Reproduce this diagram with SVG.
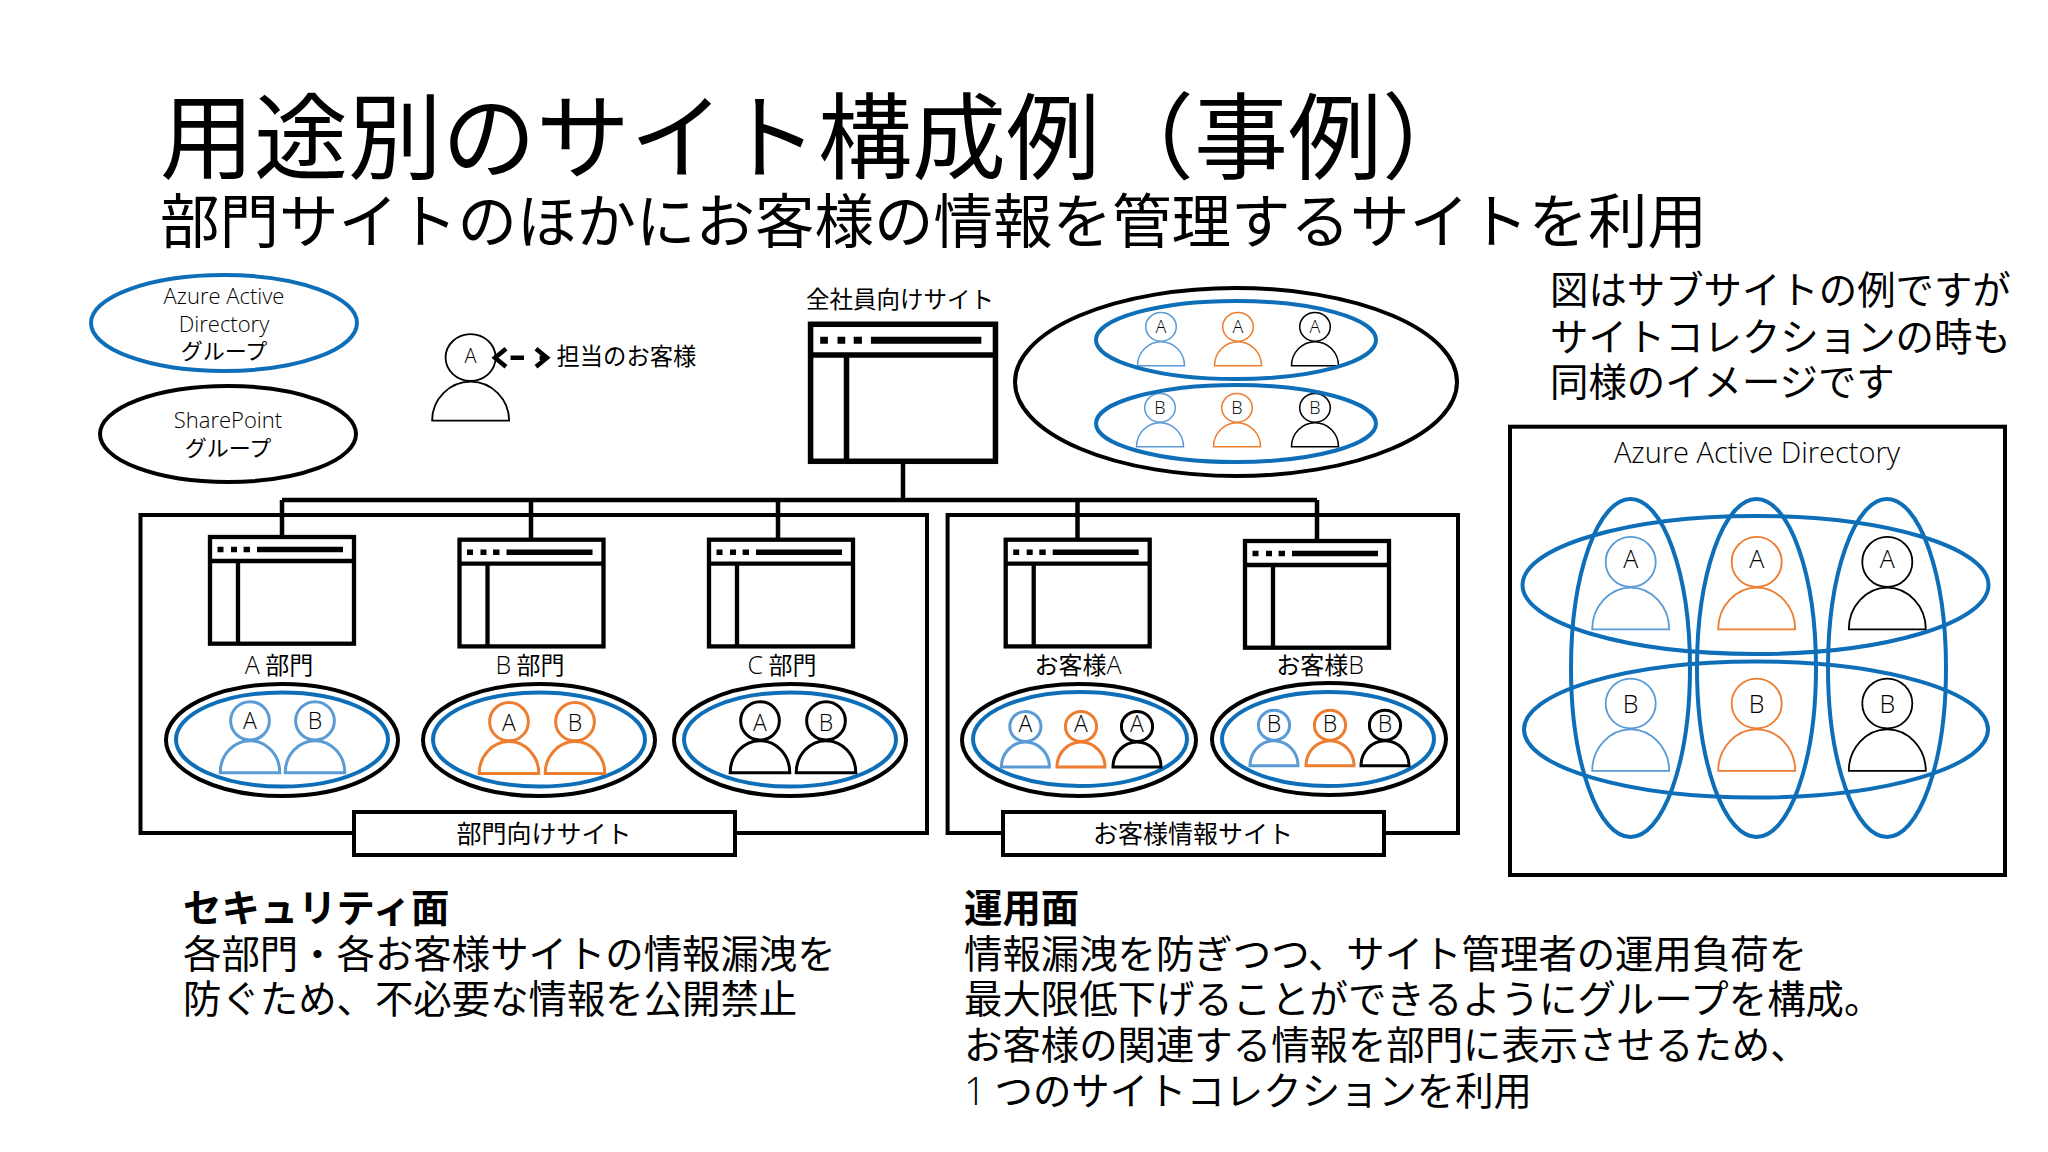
<svg xmlns="http://www.w3.org/2000/svg" width="2048" height="1152" viewBox="0 0 2048 1152">
<style>
text{font-family:"Noto Sans CJK JP","Open Sans",sans-serif;fill:#000;font-weight:400}
.lat{font-family:"Open Sans","Noto Sans CJK JP",sans-serif;font-weight:300}
.m{text-anchor:middle}
.t23{font-size:24px}
.t38{font-size:38.4px}
.frame{fill:none;stroke:#000;stroke-width:4}
.label{fill:#fff;stroke:#000;stroke-width:4}
.conn{fill:none;stroke:#000;stroke-width:4.5}
.bo{fill:none;stroke:#0e6fb8;stroke-width:4}
.ko{fill:none;stroke:#000;stroke-width:4}
.win{fill:#fff;stroke:#000;stroke-width:4.3}
.pb{stroke:#5b9bd5}.po{stroke:#ed7d31}.pk{stroke:#000}
.ps{fill:none;stroke-width:1.5}.pm{fill:none;stroke-width:3}.pl{fill:none;stroke-width:1.8}
.np{vector-effect:non-scaling-stroke}
</style>
<defs>
<g id="person"><ellipse class="np" cx="0" cy="-0.62" rx="0.65" ry="0.6"/><path class="np" d="M-1,1C-1,0.45-0.55,0 0,0C0.55,0 1,0.45 1,1Z"/></g>
<g id="window"><rect class="win" x="2" y="2" width="144" height="106.7"/><path class="win" d="M2,26H146M30,26V108.7"/><path fill="#000" d="M9.5,11.7h6v5.5h-6zM23,11.7h6v5.5h-6zM35.6,11.7h6.4v5.5h-6.4zM49,11.7h86v5.5h-86z"/></g>
<marker id="chev" markerUnits="userSpaceOnUse" markerWidth="20" markerHeight="24" viewBox="0 0 20 24" refX="16" refY="12" orient="auto-start-reverse"><path d="M5,3L16,12L5,21" fill="none" stroke="#000" stroke-width="4.5"/></marker>
</defs>
<rect width="2048" height="1152" fill="#fff"/>

<g id="titles">
<text x="160" y="172" font-size="94">用途別のサイト構成例（事例）</text>
<text x="160" y="243" font-size="59.5">部門サイトのほかにお客様の情報を管理するサイトを利用</text>
</g>

<g id="legend-aad"><ellipse class="bo" cx="224" cy="323" rx="133" ry="48"/>
<text class="lat m" x="224" y="304" font-size="22">Azure Active</text><text class="lat m" x="224" y="332" font-size="22">Directory</text><text class="m" x="224" y="359" font-size="22">グループ</text></g>
<g id="legend-sp"><ellipse class="ko" cx="228" cy="434" rx="128" ry="48"/>
<text class="lat m" x="228" y="428" font-size="22">SharePoint</text><text class="m" x="228" y="456" font-size="22">グループ</text></g>
<g id="legend-person"><use href="#person" class="pk pl" transform="translate(470.6 381.7) scale(38.5 39)"/><text class="lat m" x="470.6" y="363" font-size="20">A</text>
<text x="556.5" y="365" font-size="23.3">担当のお客様</text></g>

<g id="group-dept"><rect class="frame" x="140.5" y="515" width="786.5" height="318"/></g>
<g id="group-cust"><rect class="frame" x="947.6" y="515" width="510.4" height="318"/></g>

<g id="connectors">
<path class="conn" d="M903,464V500M282,500H1317M282,500V535M531,500V538M778,500V538M1077.5,500V538M1317,500V539"/>
<line x1="495" y1="357.7" x2="547" y2="357.7" stroke="#000" stroke-width="4.5" stroke-dasharray="13.4 15.6" stroke-dashoffset="-15.6" marker-start="url(#chev)" marker-end="url(#chev)"/>
</g>

<g id="site-all"><use href="#window" transform="translate(808 321.7) scale(1.284)"/>
<text x="806" y="308" font-size="23.5">全社員向けサイト</text></g>
<g id="all-groups"><ellipse class="ko" cx="1236" cy="382" rx="221" ry="94"/>
<use href="#person" class="pb ps" transform="translate(1161 341.7) scale(23.5 24)"/><use href="#person" class="po ps" transform="translate(1238 341.7) scale(23.5 24)"/><use href="#person" class="pk ps" transform="translate(1315 341.7) scale(23.5 24)"/>
<use href="#person" class="pb ps" transform="translate(1160 422.7) scale(23.5 24)"/><use href="#person" class="po ps" transform="translate(1237 422.7) scale(23.5 24)"/><use href="#person" class="pk ps" transform="translate(1315 422.7) scale(23.5 24)"/>
<ellipse class="bo" cx="1236" cy="340" rx="140" ry="39"/><ellipse class="bo" cx="1236" cy="423.5" rx="140" ry="38.5"/>
<text class="lat m" x="1161" y="333" font-size="18">A</text><text class="lat m" x="1238" y="333" font-size="18">A</text><text class="lat m" x="1315" y="333" font-size="18">A</text><text class="lat m" x="1160" y="414" font-size="18">B</text><text class="lat m" x="1237" y="414" font-size="18">B</text><text class="lat m" x="1315" y="414" font-size="18">B</text></g>

<g id="site-a"><use href="#window" transform="translate(208 535)"/><text class="t23 m" x="279" y="674"><tspan class="lat" font-size="25">A</tspan> 部門</text>
<ellipse class="ko" cx="282" cy="740" rx="116" ry="56"/><ellipse class="bo" cx="282" cy="739.5" rx="106" ry="47"/>
<use href="#person" class="pb pm" transform="translate(250 740.7) scale(29.8 32)"/><use href="#person" class="pb pm" transform="translate(315 740.7) scale(29.8 32)"/>
<text class="lat m" x="250" y="729" font-size="23">A</text><text class="lat m" x="315" y="729" font-size="23">B</text></g>

<g id="site-b"><use href="#window" transform="translate(457.5 537.7)"/><text class="t23 m" x="530" y="674"><tspan class="lat" font-size="25">B</tspan> 部門</text>
<ellipse class="ko" cx="539" cy="740" rx="116" ry="56"/><ellipse class="bo" cx="539" cy="739.5" rx="106" ry="47"/>
<use href="#person" class="po pm" transform="translate(509 741.5) scale(29.8 32)"/><use href="#person" class="po pm" transform="translate(575 741.5) scale(29.8 32)"/>
<text class="lat m" x="509" y="731" font-size="23">A</text><text class="lat m" x="575" y="731" font-size="23">B</text></g>

<g id="site-c"><use href="#window" transform="translate(707 537.7)"/><text class="t23 m" x="782" y="674"><tspan class="lat" font-size="25">C</tspan> 部門</text>
<ellipse class="ko" cx="790" cy="740" rx="116" ry="56"/><ellipse class="bo" cx="790" cy="739.5" rx="106" ry="47"/>
<use href="#person" class="pk pm" transform="translate(760 740.7) scale(29.8 32)"/><use href="#person" class="pk pm" transform="translate(826 740.7) scale(29.8 32)"/>
<text class="lat m" x="760" y="731" font-size="23">A</text><text class="lat m" x="826" y="731" font-size="23">B</text></g>

<g id="label-dept"><rect class="label" x="354" y="812" width="381" height="43"/><text class="m" x="544" y="843" font-size="25">部門向けサイト</text></g>

<g id="site-cust-a"><use href="#window" transform="translate(1003.7 537.7)"/><text class="t23 m" x="1078" y="674">お客様<tspan class="lat" font-size="25">A</tspan></text>
<ellipse class="ko" cx="1079" cy="740" rx="117" ry="56"/><ellipse class="bo" cx="1080" cy="739" rx="107" ry="47"/>
<use href="#person" class="pb pm" transform="translate(1025.4 742) scale(24 25)"/><use href="#person" class="po pm" transform="translate(1081 742) scale(24 25)"/><use href="#person" class="pk pm" transform="translate(1137 742) scale(24 25)"/>
<text class="lat m" x="1025.4" y="732" font-size="23">A</text><text class="lat m" x="1081" y="732" font-size="23">A</text><text class="lat m" x="1137" y="732" font-size="23">A</text></g>

<g id="site-cust-b"><use href="#window" transform="translate(1243 539)"/><text class="t23 m" x="1320" y="674">お客様<tspan class="lat" font-size="25">B</tspan></text>
<ellipse class="ko" cx="1329" cy="739" rx="117" ry="56"/><ellipse class="bo" cx="1328" cy="739" rx="106" ry="47"/>
<use href="#person" class="pb pm" transform="translate(1274 740.7) scale(24 25)"/><use href="#person" class="po pm" transform="translate(1330 740.7) scale(24 25)"/><use href="#person" class="pk pm" transform="translate(1385 740.7) scale(24 25)"/>
<text class="lat m" x="1274" y="732" font-size="23">B</text><text class="lat m" x="1330" y="732" font-size="23">B</text><text class="lat m" x="1385" y="732" font-size="23">B</text></g>

<g id="label-cust"><rect class="label" x="1003" y="812" width="381" height="43"/><text class="m" x="1193" y="843" font-size="25">お客様情報サイト</text></g>

<g id="note">
<text class="t38" x="1550" y="304">図はサブサイトの例ですが</text>
<text class="t38" x="1550" y="351">サイトコレクションの時も</text>
<text class="t38" x="1550" y="396">同様のイメージです</text>
</g>

<g id="aad-panel">
<rect x="1510" y="426.7" width="495" height="448.3" fill="none" stroke="#000" stroke-width="4"/>
<text class="lat m" x="1757" y="463" font-size="29">Azure Active Directory</text>
<use href="#person" class="pb pl" transform="translate(1630.7 587.7) scale(38.5 41.6)"/><use href="#person" class="po pl" transform="translate(1756.7 587.7) scale(38.5 41.6)"/><use href="#person" class="pk pl" transform="translate(1887.3 587.7) scale(38.5 41.6)"/>
<use href="#person" class="pb pl" transform="translate(1630.7 729.3) scale(38.5 41.6)"/><use href="#person" class="po pl" transform="translate(1756.7 729.3) scale(38.5 41.6)"/><use href="#person" class="pk pl" transform="translate(1887.3 729.3) scale(38.5 41.6)"/>
<text class="lat m" x="1630.7" y="568" font-size="25">A</text><text class="lat m" x="1756.7" y="568" font-size="25">A</text><text class="lat m" x="1887.3" y="568" font-size="25">A</text>
<text class="lat m" x="1630.7" y="713" font-size="25">B</text><text class="lat m" x="1756.7" y="713" font-size="25">B</text><text class="lat m" x="1887.3" y="713" font-size="25">B</text>
<ellipse class="bo" cx="1630.5" cy="668" rx="59.5" ry="169"/><ellipse class="bo" cx="1756.5" cy="668" rx="59.5" ry="169"/><ellipse class="bo" cx="1887" cy="668" rx="59" ry="169"/>
<ellipse class="bo" cx="1755.5" cy="585" rx="233" ry="69"/><ellipse class="bo" cx="1756" cy="729.5" rx="232" ry="68"/>
</g>

<g id="security-text">
<text class="t38" x="183" y="922" style="font-weight:700">セキュリティ面</text>
<text class="t38" x="183" y="968">各部門・各お客様サイトの情報漏洩を</text>
<text class="t38" x="183" y="1013">防ぐため、不必要な情報を公開禁止</text>
</g>
<g id="operation-text">
<text class="t38" x="964" y="922" style="font-weight:700">運用面</text>
<text class="t38" x="964" y="968">情報漏洩を防ぎつつ、サイト管理者の運用負荷を</text>
<text class="t38" x="964" y="1013">最大限低下げることができるようにグループを構成。</text>
<text class="t38" x="964" y="1059">お客様の関連する情報を部門に表示させるため、</text>
<text class="t38" x="964" y="1105"><tspan class="lat">1</tspan> つのサイトコレクションを利用</text>
</g>
</svg>
